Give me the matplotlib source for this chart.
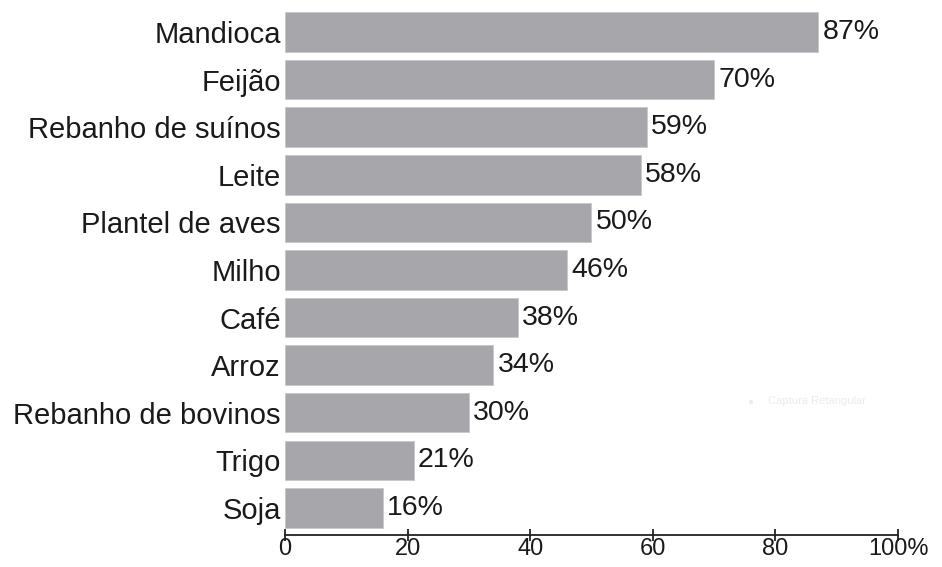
import matplotlib.pyplot as plt

categories = ['Mandioca', 'Feijão', 'Rebanho de suínos', 'Leite', 'Plantel de aves',
              'Milho', 'Café', 'Arroz', 'Rebanho de bovinos', 'Trigo', 'Soja']
values = [87, 70, 59, 58, 50, 46, 38, 34, 30, 21, 16]
ticks = [0, 20, 40, 60, 80, 100]
tick_labels = ['0', '20', '40', '60', '80', '100%']

plt.rcParams['font.family'] = ['Liberation Sans', 'DejaVu Sans']

fig = plt.figure(figsize=(9.42, 5.67), dpi=100)
ax = fig.add_axes([0.3025, 0.0564, 0.6508, 0.929])

ypos = list(range(len(categories)))[::-1]
ax.barh(ypos, values, height=0.83, color='#a7a7ab', edgecolor='#c8c8cc', linewidth=0.6)

for y, v in zip(ypos, values):
    ax.text(v + 0.7, y, f'{v}%', va='center', ha='left', fontsize=20.5, color='#1a1a1a')

ax.set_yticks(ypos)
ax.set_yticklabels(categories, fontsize=21, color='#1a1a1a')
ax.tick_params(axis='y', length=0, pad=3)

ax.set_xlim(0, 100)
ax.set_ylim(-0.57, 10.5)
ax.set_xticks(ticks)
ax.set_xticklabels(tick_labels, fontsize=17, color='#1a1a1a')
ax.tick_params(axis='x', direction='inout', length=9, width=1.3, pad=-2, color='#222222')

for s in ['top', 'right', 'left']:
    ax.spines[s].set_visible(False)
ax.spines['bottom'].set_linewidth(1.3)
ax.spines['bottom'].set_color('#222222')

# faint screenshot watermark
fig.text(0.815, 0.292, 'Captura Retangular', fontsize=8, color='#ececf0', va='center')
fig.text(0.793, 0.292, '●', fontsize=7, color='#ececf0', va='center')

fig.savefig('out.png', dpi=100)
